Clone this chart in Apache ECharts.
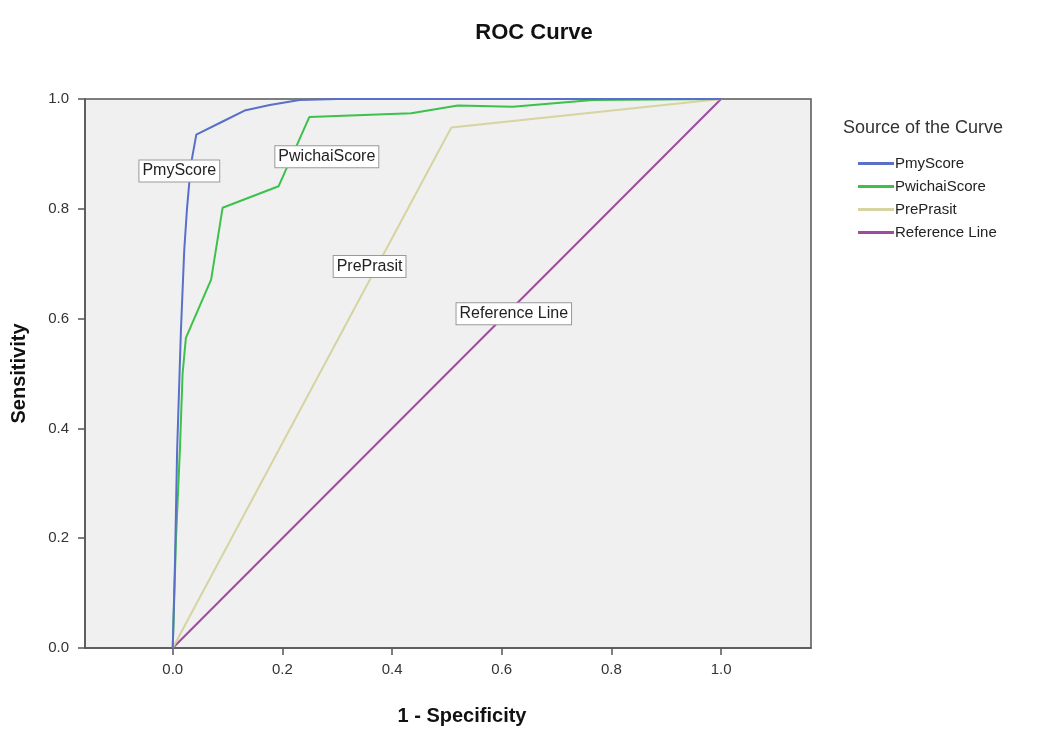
<!DOCTYPE html>
<html>
<head>
<meta charset="utf-8">
<script src="https://cdn.jsdelivr.net/npm/echarts@6/dist/echarts.min.js"></script>
<style>
  html, body { margin: 0; padding: 0; background: #fff; }
  #roc { width: 1045px; height: 731px; }
</style>
</head>
<body>
<div id="roc"></div>
<script>
// values (1 - specificity, sensitivity)
var pmyX = [0, 0.004, 0.008, 0.015, 0.021, 0.026, 0.033, 0.043, 0.091, 0.131, 0.177, 0.231, 0.3, 1.0];
var pmyY = [0, 0.15, 0.36, 0.58, 0.725, 0.80, 0.88, 0.935, 0.959, 0.979, 0.989, 0.998, 1.0, 1.0];

var pwichaiX = [0, 0.006, 0.013, 0.018, 0.024, 0.070, 0.091, 0.193, 0.249, 0.435, 0.52, 0.62, 0.766, 1.0];
var pwichaiY = [0, 0.2, 0.36, 0.5, 0.565, 0.671, 0.802, 0.841, 0.967, 0.974, 0.988, 0.986, 0.998, 1.0];

var preX = [0, 0.508, 1.0];
var preY = [0, 0.948, 1.0];

var refX = [0, 1];
var refY = [0, 1];

var names = ['PmyScore', 'PwichaiScore', 'PrePrasit', 'Reference Line'];
var xTicks = [0, 0.2, 0.4, 0.6, 0.8, 1.0];

function pairs(xs, ys) {
    var out = [];
    for (var i = 0; i < xs.length; i++) {
        out.push([xs[i], ys[i]]);
    }
    return out;
}

var font = 'Arial, "Liberation Sans", sans-serif';

// boxed label placed on a curve
function tag(text, x, y) {
    return {
        silent: true,
        symbol: 'rect',
        symbolSize: 1,
        itemStyle: {color: 'rgba(0,0,0,0)'},
        label: {
            show: true,
            position: 'inside',
            formatter: text,
            fontFamily: font,
            fontSize: 16,
            color: '#222',
            backgroundColor: '#fff',
            borderColor: '#999',
            borderWidth: 1,
            padding: [3, 3, 2, 3]
        },
        data: [{coord: [x, y]}]
    };
}

var myChart = echarts.init(document.getElementById('roc'));
var option = {
    animation: false,
    color: ['#5a6fc9', '#3cc14b', '#d6d4a0', '#a04b9e'],
    title: [
        {
            text: 'ROC Curve',
            left: 529,
            top: 17,
            textAlign: 'center',
            textStyle: {fontFamily: font, fontSize: 22, fontWeight: 'bold', color: '#111'}
        },
        {
            text: 'Source of the Curve',
            left: 838,
            top: 114,
            textStyle: {fontFamily: font, fontSize: 18, fontWeight: 'normal', color: '#333'}
        }
    ],
    legend: {
        orient: 'vertical',
        left: 853,
        top: 151,
        icon: 'rect',
        itemWidth: 36,
        itemHeight: 3,
        itemGap: 8,
        data: names,
        textStyle: {fontFamily: font, fontSize: 15, color: '#222', padding: [0, 0, 0, -4]}
    },
    grid: {
        left: 85,
        top: 99,
        right: 234,
        bottom: 82,
        show: true,
        backgroundColor: '#f0f0f0',
        borderColor: '#555',
        borderWidth: 1.5
    },
    xAxis: {
        type: 'value',
        min: -0.16,
        max: 1.164,
        name: '1 - Specificity',
        nameLocation: 'middle',
        nameGap: 58,
        nameTextStyle: {fontFamily: font, fontSize: 20, fontWeight: 'bold', color: '#111', padding: [0, 0, 0, 28]},
        axisLine: {show: true, onZero: false, lineStyle: {color: '#555', width: 1.5}},
        axisTick: {show: true, customValues: xTicks, length: 7, lineStyle: {color: '#555', width: 1.5}},
        axisLabel: {
            customValues: xTicks,
            margin: 14,
            fontFamily: font,
            fontSize: 15,
            color: '#333',
            formatter: function (v) { return v.toFixed(1); }
        },
        splitLine: {show: false}
    },
    yAxis: {
        type: 'value',
        min: 0,
        max: 1,
        interval: 0.2,
        name: 'Sensitivity',
        nameLocation: 'middle',
        nameGap: 56,
        nameTextStyle: {fontFamily: font, fontSize: 20, fontWeight: 'bold', color: '#111'},
        axisLine: {show: true, onZero: false, lineStyle: {color: '#555', width: 1.5}},
        axisTick: {show: true, length: 7, lineStyle: {color: '#555', width: 1.5}},
        axisLabel: {
            margin: 16,
            fontFamily: font,
            fontSize: 15,
            color: '#333',
            formatter: function (v) { return v.toFixed(1); }
        },
        splitLine: {show: false}
    },
    series: [
        {
            name: names[0],
            type: 'line',
            showSymbol: false,
            data: pairs(pmyX, pmyY),
            lineStyle: {width: 2},
            markPoint: tag('PmyScore', 0.012, 0.869),
            z: 4
        },
        {
            name: names[1],
            type: 'line',
            showSymbol: false,
            data: pairs(pwichaiX, pwichaiY),
            lineStyle: {width: 2},
            markPoint: tag('PwichaiScore', 0.281, 0.895),
            z: 3
        },
        {
            name: names[2],
            type: 'line',
            showSymbol: false,
            data: pairs(preX, preY),
            lineStyle: {width: 2},
            markPoint: tag('PrePrasit', 0.359, 0.695),
            z: 2
        },
        {
            name: names[3],
            type: 'line',
            showSymbol: false,
            data: pairs(refX, refY),
            lineStyle: {width: 2},
            markPoint: tag('Reference Line', 0.622, 0.609),
            z: 1
        }
    ]
};
myChart.setOption(option);
</script>
</body>
</html>
